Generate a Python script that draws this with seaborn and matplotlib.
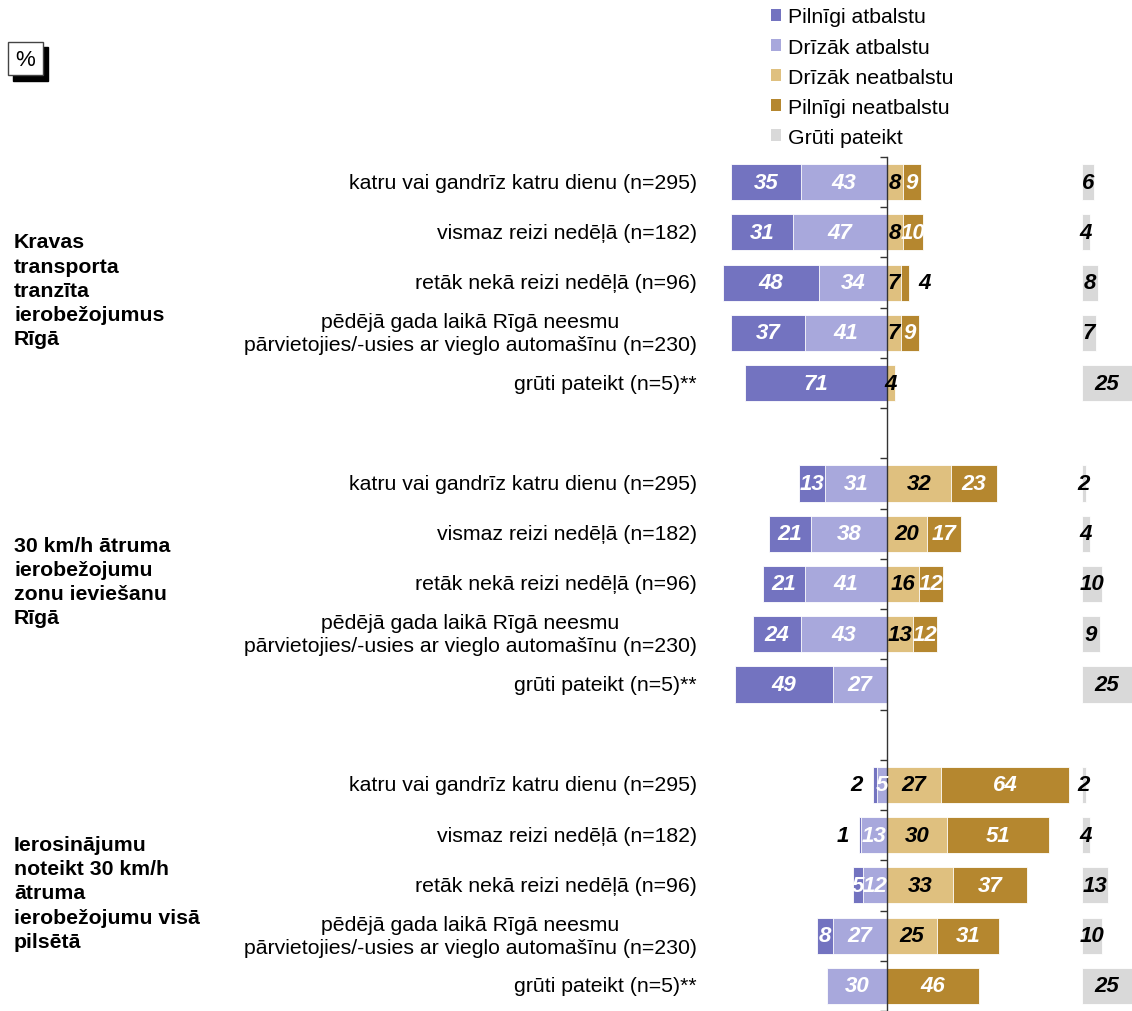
import matplotlib.pyplot as plt
from matplotlib.patches import Patch, Rectangle
from matplotlib.transforms import blended_transform_factory
import pandas as pd
import seaborn as sns

# --- data ---
row_labels = [
    "katru vai gandrīz katru dienu (n=295)",
    "vismaz reizi nedēļā (n=182)",
    "retāk nekā reizi nedēļā (n=96)",
    "pēdējā gada laikā Rīgā neesmu\npārvietojies/-usies ar vieglo automašīnu (n=230)",
    "grūti pateikt (n=5)**",
]
group_labels = [
    "Kravas\ntransporta\ntranzīta\nierobežojumus\nRīgā",
    "30 km/h ātruma\nierobežojumu\nzonu ieviešanu\nRīgā",
    "Ierosinājumu\nnoteikt 30 km/h\nātruma\nierobežojumu visā\npilsētā",
]
series_names = ["Pilnīgi atbalstu", "Drīzāk atbalstu", "Drīzāk neatbalstu",
                "Pilnīgi neatbalstu", "Grūti pateikt"]

pilnigi_atbalstu = [35, 31, 48, 37, 71, 13, 21, 21, 24, 49, 2, 1, 5, 8, 0]
drizak_atbalstu = [43, 47, 34, 41, 0, 31, 38, 41, 43, 27, 5, 13, 12, 27, 30]
drizak_neatbalstu = [8, 8, 7, 7, 4, 32, 20, 16, 13, 0, 27, 30, 33, 25, 0]
pilnigi_neatbalstu = [9, 10, 4, 9, 0, 23, 17, 12, 12, 0, 64, 51, 37, 31, 46]
gruti_pateikt = [6, 4, 8, 7, 25, 2, 4, 10, 9, 25, 2, 4, 13, 10, 25]

# labels that sit outside their (too thin) segment: (series, row index)
outside = {("pn", 2), ("pa", 10), ("pa", 11)}

colors = ["#7373C0", "#A8A8DC", "#DFC07F", "#B5872F", "#D9D9D9"]

# --- layout ---
W, H = 1132, 1012
FS = 15.3
pos = [g * 6 + r for g in range(3) for r in range(5)]
group_y = [2.15, 7.95, 14.15]
df = pd.DataFrame({
    "pos": pos,
    "pa": pilnigi_atbalstu,
    "da": drizak_atbalstu,
    "dn": drizak_neatbalstu,
    "pn": pilnigi_neatbalstu,
    "gp": gruti_pateikt,
})
df["left_total"] = -(df.pa + df.da)
df["left_inner"] = -df.da
df["right_total"] = df.dn + df.pn
df["right_inner"] = df.dn

sns.set_style("white")
plt.rcParams["font.family"] = ["Liberation Sans", "DejaVu Sans"]
plt.rcParams["text.color"] = "black"

fig = plt.figure(figsize=(W / 100, H / 100), dpi=100)
ax = fig.add_axes([707 / W, 0, 425 / W, 854 / H])
gx = fig.add_axes([1082 / W, 0, 50 / W, 854 / H])

kw = dict(y="pos", orient="h", native_scale=True, width=0.72, errorbar=None,
          saturation=1, edgecolor="white", linewidth=0.6)
sns.barplot(data=df, x="left_total", color=colors[0], ax=ax, **kw)
sns.barplot(data=df, x="left_inner", color=colors[1], ax=ax, **kw)
sns.barplot(data=df, x="right_total", color=colors[3], ax=ax, **kw)
sns.barplot(data=df, x="right_inner", color=colors[2], ax=ax, **kw)
sns.barplot(data=df, x="gp", color=colors[4], ax=gx, **kw)

ax.set_xlim(-90, 122.5)
ax.set_ylim(16.5, -0.5)
gx.set_xlim(0, 25)
gx.set_ylim(16.5, -0.5)
gx.axis("off")

for s in ["top", "right", "bottom"]:
    ax.spines[s].set_visible(False)
ax.spines["left"].set_position(("data", 0))
ax.spines["left"].set_color("#333333")
ax.spines["left"].set_linewidth(1)
ax.set_yticks([i + 0.5 for i in range(-1, 17)])
ax.set_yticklabels([])
ax.tick_params(axis="y", length=5, width=1, color="#333333", direction="out", left=True)
ax.set_xticks([])
ax.set_xlabel("")
ax.set_ylabel("")

# value labels
vfont = dict(fontsize=16, fontweight="bold", fontstyle="italic",
             ha="center", va="center")
for i, row in df.iterrows():
    y = row.pos
    segs = [
        ("pa", row.pa, -(row.da + row.pa / 2), -(row.da + row.pa), -1, "white"),
        ("da", row.da, -row.da / 2, -row.da, -1, "white"),
        ("dn", row.dn, row.dn / 2, row.dn, 1, "black"),
        ("pn", row.pn, row.dn + row.pn / 2, row.dn + row.pn, 1, "white"),
    ]
    for key, v, cx, edge, side, c in segs:
        if v == 0:
            continue
        if (key, i) in outside:
            ax.text(edge + side * 8, y, f"{v}", color="black", **vfont)
        else:
            ax.text(cx, y, f"{v}", color=c, **vfont)
    gx.text(row.gp / 2, y, f"{row.gp}", color="black", clip_on=False, **vfont)

# row and group labels
tr = blended_transform_factory(fig.transFigure, ax.transData)
for p, lab in zip(pos, row_labels * 3):
    ax.text(697 / W, p, lab, transform=tr, ha="right", va="center",
            multialignment="center", fontsize=FS, linespacing=1.25)
for gy, lab in zip(group_y, group_labels):
    ax.text(14 / W, gy, lab, transform=tr, ha="left", va="center",
            fontsize=FS, fontweight="bold", linespacing=1.34)

# legend
handles = [Patch(facecolor=c, edgecolor="none") for c in colors]
fig.legend(handles, series_names, loc="upper left", bbox_to_anchor=(762 / W, 1.0),
           frameon=False, fontsize=FS, handlelength=0.5, handleheight=0.5,
           handletextpad=0.3, labelspacing=0.52, borderaxespad=0)

# "%" box with shadow
fig.patches.append(Rectangle((13 / W, 1 - 82 / H), 35 / W, 34 / H, transform=fig.transFigure,
                             facecolor="black", edgecolor="black", zorder=1))
fig.patches.append(Rectangle((8 / W, 1 - 76 / H), 35 / W, 33 / H, transform=fig.transFigure,
                             facecolor="white", edgecolor="#444444", linewidth=1, zorder=2))
fig.text(25.5 / W, 1 - 60 / H, "%", ha="center", va="center", fontsize=16, zorder=3)

fig.savefig("out.png", dpi=100, facecolor="white")
